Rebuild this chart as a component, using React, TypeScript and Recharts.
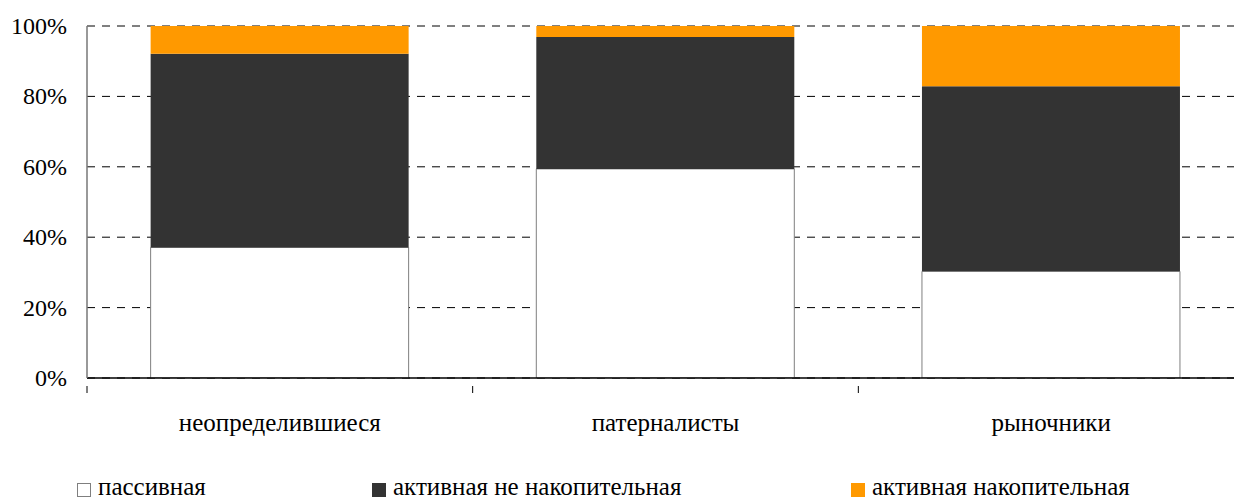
import { BarChart, Bar, XAxis, YAxis, CartesianGrid } from "recharts";

const categories = ["неопределившиеся", "патерналисты", "рыночники"];
const passive = [37.1, 59.4, 30.3];
const activeNonSaving = [55.0, 37.5, 52.6];
const activeSaving = [7.9, 3.1, 17.1];
const yTicks = [0, 20, 40, 60, 80, 100];

const seriesNames = ["пассивная", "активная не накопительная", "активная накопительная"];

const data = categories.map((name, i) => ({
  name,
  passive: passive[i],
  activeNonSaving: activeNonSaving[i],
  activeSaving: activeSaving[i],
}));

const FONT = "Liberation Serif, Times New Roman, serif";

function CategoryTick(props: any) {
  const { x, y, payload } = props;
  const half = payload?.offset ?? 0;
  return (
    <g>
      <line x1={x - half} y1={y} x2={x - half} y2={y + 7} stroke="#000" strokeWidth={1} />
      <text
        x={x}
        y={y + 45}
        textAnchor="middle"
        fontFamily={FONT}
        fontSize={25}
        fill="#000"
      >
        {payload.value}
      </text>
    </g>
  );
}

function PercentTick(props: any) {
  const { x, y, payload } = props;
  return (
    <text
      x={x - 20}
      y={y}
      dy={8}
      textAnchor="end"
      fontFamily={FONT}
      fontSize={24}
      fill="#000"
    >
      {`${payload.value}%`}
    </text>
  );
}

const legendItems = [
  { label: seriesNames[0], fill: "#ffffff", stroke: "#7f7f7f", left: 77 },
  { label: seriesNames[1], fill: "#333333", stroke: "none", left: 372 },
  { label: seriesNames[2], fill: "#ff9900", stroke: "none", left: 851 },
];

export default function App() {
  return (
    <div
      style={{
        position: "absolute",
        left: 0,
        top: 0,
        width: 1234,
        height: 497,
        overflow: "hidden",
        background: "#fff",
      }}
    >
      <BarChart
        width={1250}
        height={497}
        data={data}
        margin={{ top: 26, right: 6, left: 0, bottom: 77 }}
        barCategoryGap="16.5%"
      >
        <CartesianGrid
          vertical={false}
          stroke="#000"
          strokeDasharray="8 7"
        />
        <XAxis
          dataKey="name"
          height={42}
          axisLine={{ stroke: "#000", strokeWidth: 1.5 }}
          tickLine={false}
          tick={<CategoryTick />}
          interval={0}
        />
        <YAxis
          width={87}
          domain={[0, 100]}
          ticks={yTicks}
          axisLine={{ stroke: "#777", strokeWidth: 1.5 }}
          tickLine={false}
          tickSize={0}
          tickMargin={0}
          tick={<PercentTick />}
          interval={0}
          allowDataOverflow
        />
        <Bar
          dataKey="passive"
          stackId="a"
          fill="#ffffff"
          stroke="#7f7f7f"
          strokeWidth={1}
          isAnimationActive={false}
        />
        <Bar
          dataKey="activeNonSaving"
          stackId="a"
          fill="#333333"
          isAnimationActive={false}
        />
        <Bar
          dataKey="activeSaving"
          stackId="a"
          fill="#ff9900"
          isAnimationActive={false}
        />
      </BarChart>

      {legendItems.map((item) => (
        <div
          key={item.label}
          style={{
            position: "absolute",
            left: item.left,
            top: 474,
            display: "flex",
            alignItems: "flex-start",
            fontFamily: FONT,
            fontSize: 25,
            lineHeight: "26px",
            color: "#000",
            whiteSpace: "nowrap",
          }}
        >
          <span
            style={{
              display: "inline-block",
              width: 14,
              height: 14,
              marginTop: 9,
              background: item.fill,
              border: item.stroke === "none" ? "none" : `1px solid ${item.stroke}`,
              boxSizing: "border-box",
              marginRight: 7,
            }}
          />
          {item.label}
        </div>
      ))}
    </div>
  );
}
